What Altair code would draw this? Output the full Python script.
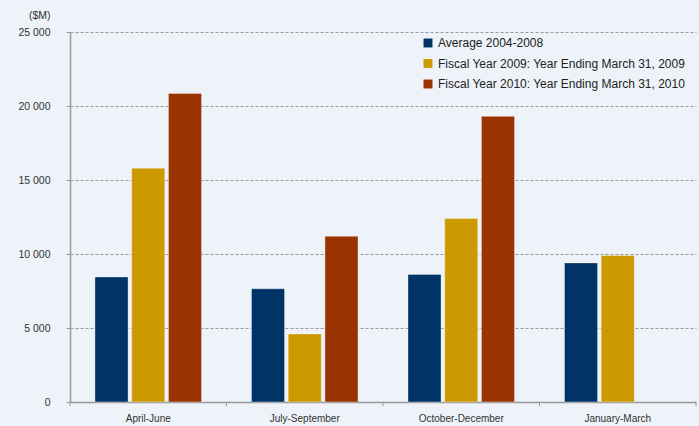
import altair as alt
import pandas as pd

categories = ["April-June", "July-September", "October-December", "January-March"]
series = ["Average 2004-2008",
          "Fiscal Year 2009: Year Ending March 31, 2009",
          "Fiscal Year 2010: Year Ending March 31, 2010"]
avg_2004_2008 = [8450, 7650, 8620, 9400]
fy_2009 = [15800, 4600, 12400, 9900]
fy_2010 = [20850, 11200, 19300, None]
colors = ["#003366", "#CC9900", "#993300"]
y_ticks = [0, 5000, 10000, 15000, 20000, 25000]

rows = []
for s, vals in zip(series, [avg_2004_2008, fy_2009, fy_2010]):
    for c, v in zip(categories, vals):
        if v is not None:
            rows.append({"cat": c, "series": s, "value": v})
df = pd.DataFrame(rows)
cat_df = pd.DataFrame({"cat": categories})

W, H = 626, 370
FONT = "Liberation Sans"

x_scale = alt.Scale(domain=categories, paddingInner=0, paddingOuter=0)

bars = alt.Chart(df).mark_bar(stroke="#ffffff", strokeWidth=0.6, strokeOpacity=0.6).encode(
    x=alt.X("cat:N", scale=x_scale, sort=categories, title=None,
            axis=alt.Axis(labelAngle=0, ticks=False, labelPadding=11, labelFontSize=10,
                          labelFont=FONT, labelColor="#333333", domainColor="#999999",
                          domainWidth=1.5, grid=False)),
    xOffset=alt.XOffset("series:N", sort=series,
                        scale=alt.Scale(domain=series, paddingInner=0.1, paddingOuter=0.68)),
    y=alt.Y("value:Q", scale=alt.Scale(domain=[0, 25000], nice=False),
            axis=alt.Axis(values=y_ticks, title="($M)", titleAngle=0, titleX=-20, titleY=-17,
                          titleAlign="right", titleBaseline="middle", titleFont=FONT,
                          titleFontSize=10.5, titleFontWeight="normal", titleColor="#333333",
                          labelFont=FONT, labelFontSize=10.5, labelColor="#333333",
                          labelPadding=16, tickSize=4, tickColor="#999999",
                          domainColor="#999999", domainWidth=1.5,
                          gridColor="#999999", gridDash=[3, 2], gridWidth=1,
                          labelExpr="replace(format(datum.value, ','), ',', ' ')")),
    color=alt.Color("series:N", sort=series,
                    scale=alt.Scale(domain=series, range=colors),
                    legend=alt.Legend(title=None, orient="none", legendX=352, legendY=5,
                                      symbolType="square", symbolSize=80, symbolStrokeWidth=0,
                                      labelFont=FONT, labelFontSize=12, labelColor="#222222",
                                      rowPadding=8.5, labelLimit=400, symbolOffset=0,
                                      labelOffset=4)),
)

ticks = alt.Chart(cat_df).mark_rule(color="#999999", strokeWidth=1).encode(
    x=alt.X("cat:N", sort=categories, bandPosition=0),
    y=alt.value(H),
    y2=alt.value(H + 4),
)
end_tick = alt.Chart(cat_df.head(1)).mark_rule(color="#999999", strokeWidth=1).encode(
    x=alt.value(W),
    y=alt.value(H),
    y2=alt.value(H + 4),
)

chart = alt.layer(bars, ticks, end_tick).properties(
    width=W, height=H,
    autosize=alt.AutoSizeParams(type="none"),
    padding={"left": 70, "top": 32, "right": 3, "bottom": 24},
    background="#EEF2F9",
).configure_view(stroke=None, fill="#EEF2F9")

chart.save("out.html", embed_options={"renderer": "svg", "actions": False})
